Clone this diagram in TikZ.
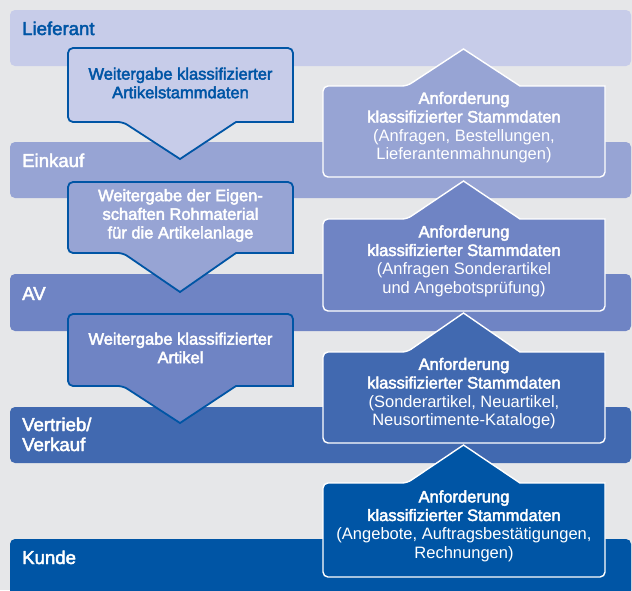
\documentclass[tikz,border=0pt]{standalone}
\usepackage{fontspec}
\setmainfont{Liberation Sans}
\usepackage{xcolor}
\usepackage{tikz}
\usetikzlibrary{positioning}

\definecolor{grund}{HTML}{E6E7E9}
\definecolor{lief}{HTML}{C7CCE9}
\definecolor{eink}{HTML}{97A4D4}
\definecolor{av}{HTML}{6F84C4}
\definecolor{vert}{HTML}{4169B0}
\definecolor{kunde}{HTML}{0055A5}
\definecolor{dunkel}{HTML}{0055A5}

% slightly heavier text: fill and stroke the glyphs
\newcommand{\kraeftig}{\special{pdf:literal direct 2 Tr 0.45 w}}
\newcommand{\normal}{\special{pdf:literal direct 0 Tr}}

% callout pointing down: name, top, bottom, tip, fill, text colour, text
\newcommand{\weitergabe}[7]{
  \filldraw [abgabe, fill=#5] (180,#4) -- (236,#3) -- (293,#3)
  [rounded corners=5pt] -- (293,#2) -- (68,#2) -- (68,#3)
  -- (123,#3) [sharp corners] -- cycle;
  \node [boxtext, text=#6] (#1) at (180.5,{(#2+#3)/2-2}) {\kraeftig #7\normal};
}
% callout pointing up: name, top, bottom, tip, fill, text
\newcommand{\anforderung}[6]{
  \filldraw [anfrage, fill=#5] (463.5,#4) -- (520,#2) -- (605,#2)
  [rounded corners=5pt] -- (605,#3) -- (323,#3) -- (323,#2)
  -- (407,#2) [sharp corners] -- cycle;
  \node [boxtext] (#1) at (464,{(#2+#3)/2-4})
  {\kraeftig Anforderung\\klassifizierter Stammdaten\normal\\#6};
}

\begin{document}
\begin{tikzpicture}[
    x=1pt, y=-1pt,
    % styles
    band/.style={rounded corners=5pt},
    bandlabel/.style={anchor=base west, align=left, inner sep=0pt,
      font=\fontsize{18.6}{20}\selectfont},
    abgabe/.style={draw=dunkel, line width=1.8pt},
    anfrage/.style={draw=white, line width=1.4pt},
    boxtext/.style={align=center, text=white,
      font=\fontsize{16.5}{18.6}\selectfont}]

    \useasboundingbox (0,0) rectangle (632,590);
    \clip (0,0) rectangle (632,590);
    \fill [grund] (0,0) rectangle (632,590);

    % bands (last baseline of the label sits \b below the band top)
    \foreach \n/\y/\h/\b/\col/\tc/\txt in {
      lieferant/10/56/25/lief/dunkel/Lieferant,
      einkauf/142/56/25/eink/white/Einkauf,
      av/274/57/26/av/white/AV,
      vertrieb/407/56/44/vert/white/{Vertrieb/\\Verkauf},
      kunde/539/70/25/kunde/white/Kunde
    } {
      \fill [band, \col] (10,\y) rectangle (631,{\y+\h});
      \node [bandlabel, text=\tc] (\n) at (22,{\y+\b}) {\kraeftig\txt\normal};
    }

    % passing data down (left)
    \weitergabe{wk1}{48}{122}{159}{lief}{dunkel}
      {Weitergabe klassifizierter\\Artikelstammdaten}
    \weitergabe{wk2}{182}{253}{292}{eink}{white}
      {Weitergabe der Eigen-\\schaften Rohmaterial\\für die Artikelanlage}
    \weitergabe{wk3}{314}{386}{423}{av}{white}
      {Weitergabe klassifizierter\\Artikel}

    % requests up (right)
    \anforderung{ak1}{86}{177}{49}{eink}
      {(Anfragen, Bestellungen,\\Lieferantenmahnungen)}
    \anforderung{ak2}{219}{311}{181}{av}
      {(Anfragen Sonderartikel\\und Angebotsprüfung)}
    \anforderung{ak3}{352}{443}{313}{vert}
      {(Sonderartikel, Neuartikel,\\Neusortimente-Kataloge)}
    \anforderung{ak4}{483}{577}{445}{kunde}
      {(Angebote, Auftragsbestätigungen,\\Rechnungen)}

  \end{tikzpicture}
\end{document}
